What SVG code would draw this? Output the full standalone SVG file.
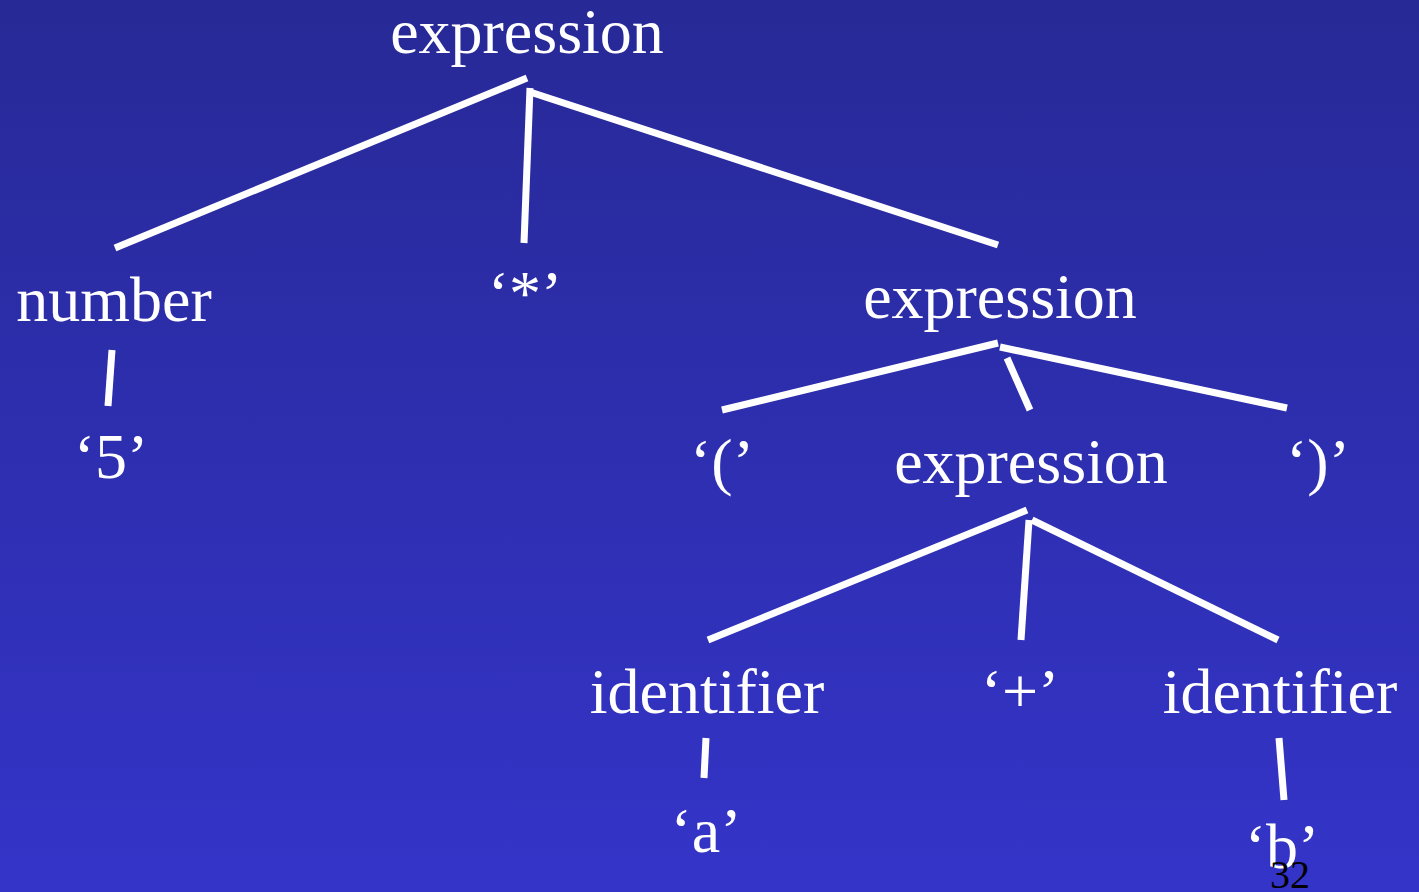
<svg xmlns="http://www.w3.org/2000/svg" width="1419" height="892" viewBox="0 0 1419 892">
<defs>
<linearGradient id="bg" x1="0" y1="0" x2="0" y2="1">
<stop offset="0" stop-color="#272996"/>
<stop offset="1" stop-color="#3434c9"/>
</linearGradient>
<style>
.t{font-family:"Liberation Serif","Times New Roman",serif;font-size:64px;fill:#ffffff;text-anchor:middle}
.e{stroke:#ffffff;stroke-width:7;fill:none}
</style>
</defs>
<rect width="1419" height="892" fill="url(#bg)"/>
<g id="connectors" class="e">
<line x1="527" y1="78" x2="115" y2="248"/>
<line x1="530" y1="88" x2="524" y2="243"/>
<line x1="530" y1="92" x2="998" y2="245"/>
<line x1="112" y1="350" x2="108" y2="406"/>
<line x1="998" y1="343" x2="722" y2="410"/>
<line x1="1007" y1="358" x2="1030" y2="410"/>
<line x1="1000" y1="347" x2="1287" y2="408"/>
<line x1="1027" y1="510" x2="708" y2="640"/>
<line x1="1029" y1="520" x2="1021" y2="640"/>
<line x1="1032" y1="520" x2="1278" y2="640"/>
<line x1="706" y1="738" x2="704" y2="778"/>
<line x1="1279" y1="738" x2="1284" y2="800"/>
</g>
<g id="n_expr_root"><text class="t" x="527" y="53">expression</text></g>
<g id="n_number"><text class="t" x="114" y="321">number</text></g>
<g id="n_star"><text class="t" x="525" y="315">‘*’</text></g>
<g id="n_expr2"><text class="t" x="1000" y="318">expression</text></g>
<g id="n_five"><text class="t" x="111" y="478">‘5’</text></g>
<g id="n_lparen"><text class="t" x="722" y="483">‘(’</text></g>
<g id="n_expr3"><text class="t" x="1031" y="483">expression</text></g>
<g id="n_rparen"><text class="t" x="1318" y="483">‘)’</text></g>
<g id="n_ident1"><text class="t" x="707" y="713">identifier</text></g>
<g id="n_plus"><text class="t" x="1020" y="713">‘+’</text></g>
<g id="n_ident2"><text class="t" x="1280" y="713">identifier</text></g>
<g id="n_a"><text class="t" x="706" y="852">‘a’</text></g>
<g id="n_b"><text class="t" x="1282" y="868">‘b’</text></g>
<g id="page"><text x="1290" y="888" style="font-family:'Liberation Serif','Times New Roman',serif;font-size:40px;fill:#000000;text-anchor:middle">32</text></g>
</svg>
